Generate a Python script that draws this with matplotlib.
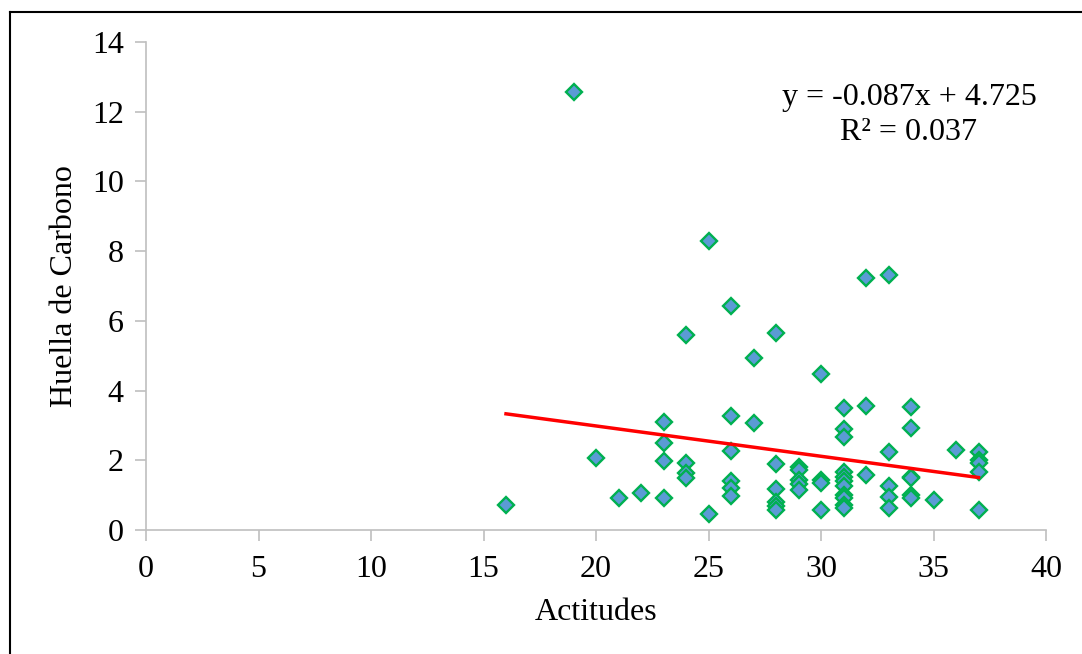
import numpy as np
import matplotlib
matplotlib.use('Agg')
import matplotlib.pyplot as plt
from matplotlib.lines import Line2D

# Actitudes vs Huella de Carbono
actitudes = [16, 19, 20, 21, 22,
             23, 23, 23, 23,
             24, 24, 24, 24,
             25, 25,
             26, 26, 26, 26, 26, 26,
             27, 27,
             28, 28, 28, 28, 28, 28,
             29, 29, 29, 29, 29,
             30, 30, 30, 30,
             31, 31, 31, 31, 31, 31, 31, 31, 31, 31, 31,
             32, 32, 32,
             33, 33, 33, 33, 33,
             34, 34, 34, 34, 34, 34,
             35, 36,
             37, 37, 37, 37, 37]
huella = [0.72, 12.57, 2.07, 0.91, 1.05,
          3.09, 2.5, 1.97, 0.92,
          5.58, 1.91, 1.64, 1.48,
          8.29, 0.45,
          6.44, 3.27, 2.27, 1.42, 1.2, 0.98,
          4.94, 3.08,
          5.64, 1.9, 1.17, 0.8, 0.68, 0.57,
          1.8, 1.72, 1.43, 1.32, 1.15,
          4.47, 1.43, 1.35, 0.57,
          3.5, 2.9, 2.68, 1.65, 1.52, 1.4, 1.25, 1.0, 0.92, 0.72, 0.63,
          7.22, 3.57, 1.58,
          7.31, 2.23, 1.26, 0.95, 0.64,
          3.52, 2.93, 1.53, 1.48, 1.0, 0.91,
          0.85, 2.3,
          2.25, 2.02, 1.93, 1.67, 0.57]

pendiente = -0.087
intercepto = 4.725
r2 = 0.037

plt.rcParams['font.family'] = ['Liberation Serif', 'DejaVu Serif']

fig = plt.figure(figsize=(10.82, 6.54), dpi=100)
ax = fig.add_axes([146/1082, 124/654, 900/1082, 488/654])

ax.plot(actitudes, huella, linestyle='none', marker='D', markersize=7.8,
        markerfacecolor='#5B9BD5', markeredgecolor='#00B050', markeredgewidth=1.7,
        zorder=3)

xl = np.array([min(actitudes), max(actitudes)])
ax.plot(xl, pendiente*xl + intercepto, color='#FF0000', linewidth=2.5, zorder=4)

ax.set_xlim(0, 40)
ax.set_ylim(0, 14)
ax.set_xticks(range(0, 41, 5))
ax.set_yticks(range(0, 15, 2))
for s in ['top', 'right']:
    ax.spines[s].set_visible(False)
for s in ['left', 'bottom']:
    ax.spines[s].set_color('#BFBFBF')
    ax.spines[s].set_linewidth(1.2)
ax.tick_params(axis='both', direction='out', length=8, width=1.2, color='#BFBFBF',
               labelsize=23)
ax.tick_params(axis='x', pad=10)
ax.tick_params(axis='y', pad=8)
ax.set_xlabel('Actitudes', fontsize=23, labelpad=10)
ax.set_ylabel('Huella de Carbono', fontsize=23, labelpad=9)

fig.text(909/1082, 1 - 115/654, f'y = {pendiente}x + {intercepto}\nR² = {r2}',
         ha='center', va='center', fontsize=23, multialignment='center',
         linespacing=1.25)

# borde del grafico
fig.add_artist(Line2D([9.5/1082, 9.5/1082], [0, 1 - 12/654], color='black', lw=1.5))
fig.add_artist(Line2D([9.5/1082, 1], [1 - 12/654, 1 - 12/654], color='black', lw=1.5))

fig.savefig('out.png', dpi=100)
